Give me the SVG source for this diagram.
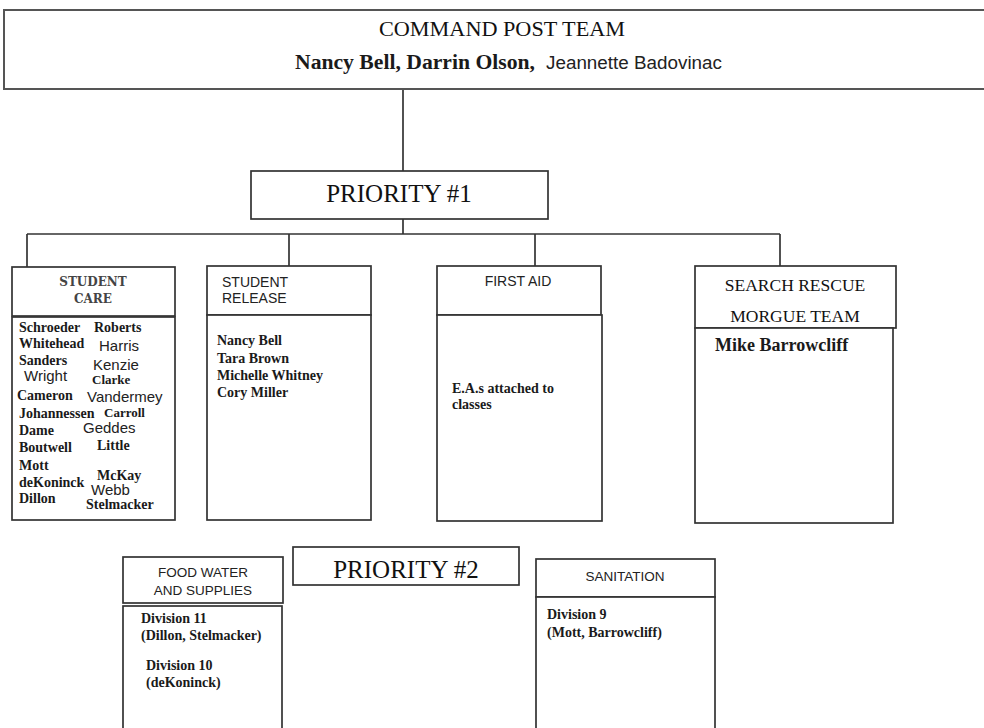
<svg xmlns="http://www.w3.org/2000/svg" width="984" height="728" viewBox="0 0 984 728">
<style>
.box{fill:#fff;stroke:#333;stroke-width:1.7}
.cmd{fill:#fff;stroke:#555;stroke-width:2}
.ln{fill:none;stroke:#333;stroke-width:1.7}
.tr{font-family:"Liberation Serif","Times New Roman",serif;fill:#111}
.tb{font-family:"Liberation Serif","Times New Roman",serif;font-weight:bold;fill:#1a1a1a}
.sa{font-family:"Liberation Sans",Arial,sans-serif;fill:#222}
.slab{font-family:"DejaVu Serif",serif;font-weight:bold;fill:#444;font-size:12px}
.nm{font-size:14px}
.sn{font-size:15px}
</style>
<rect width="984" height="728" fill="#fff"/>
<g id="connectors">
<line class="ln" x1="403" y1="89" x2="403" y2="171"/>
<line class="ln" x1="403" y1="219" x2="403" y2="234"/>
<line class="ln" x1="27" y1="234" x2="780" y2="234"/>
<line class="ln" x1="27" y1="234" x2="27" y2="267"/>
<line class="ln" x1="289" y1="234" x2="289" y2="266"/>
<line class="ln" x1="535" y1="234" x2="535" y2="266"/>
<line class="ln" x1="780" y1="234" x2="780" y2="266"/>
</g>
<g id="command-post">
<rect class="cmd" x="4" y="10" width="990" height="79"/>
<text class="tr" x="502" y="36" font-size="21" text-anchor="middle" textLength="246" lengthAdjust="spacingAndGlyphs">COMMAND POST TEAM</text>
<text class="tb" x="295" y="69" font-size="20" textLength="240" lengthAdjust="spacingAndGlyphs">Nancy Bell, Darrin Olson,</text>
<text class="sa" x="546" y="69" font-size="17.5" textLength="176" lengthAdjust="spacingAndGlyphs">Jeannette Badovinac</text>
</g>
<g id="priority-1">
<rect class="box" x="251" y="171" width="297" height="48"/>
<text class="tr" x="399" y="202" font-size="25" text-anchor="middle">PRIORITY #1</text>
</g>
<g id="student-care">
<rect class="box" x="12" y="267" width="163" height="49"/>
<rect class="box" x="12" y="317" width="163" height="203"/>
<text class="slab" x="93" y="286" text-anchor="middle">STUDENT</text>
<text class="slab" x="93" y="303" text-anchor="middle">CARE</text>
<text class="tb nm" x="19" y="332">Schroeder</text>
<text class="tb nm" x="94" y="332">Roberts</text>
<text class="tb nm" x="19" y="348">Whitehead</text>
<text class="sa sn" x="99" y="351">Harris</text>
<text class="tb nm" x="19" y="365">Sanders</text>
<text class="sa sn" x="93" y="370">Kenzie</text>
<text class="sa sn" x="24" y="381">Wright</text>
<text class="tb" x="92" y="384" font-size="13">Clarke</text>
<text class="tb nm" x="17" y="400">Cameron</text>
<text class="sa sn" x="87" y="402">Vandermey</text>
<text class="tb nm" x="19" y="418">Johannessen</text>
<text class="tb" x="104" y="417" font-size="13" font-weight="normal">Carroll</text>
<text class="tb nm" x="19" y="435">Dame</text>
<text class="sa sn" x="83" y="433">Geddes</text>
<text class="tb nm" x="19" y="452">Boutwell</text>
<text class="tb nm" x="97" y="450">Little</text>
<text class="tb nm" x="19" y="470">Mott</text>
<text class="tb nm" x="97" y="480">McKay</text>
<text class="tb nm" x="19" y="487">deKoninck</text>
<text class="sa sn" x="91" y="495">Webb</text>
<text class="tb nm" x="19" y="503">Dillon</text>
<text class="tb nm" x="86" y="509">Stelmacker</text>
</g>
<g id="student-release">
<rect class="box" x="207" y="266" width="164" height="49"/>
<rect class="box" x="207" y="315" width="164" height="205"/>
<text class="sa" x="222" y="287" font-size="14">STUDENT</text>
<text class="sa" x="222" y="303" font-size="14">RELEASE</text>
<text class="tb nm" x="217" y="345">Nancy Bell</text>
<text class="tb nm" x="217" y="363">Tara Brown</text>
<text class="tb nm" x="217" y="380">Michelle Whitney</text>
<text class="tb nm" x="217" y="397">Cory Miller</text>
</g>
<g id="first-aid">
<rect class="box" x="437" y="266" width="164" height="49"/>
<rect class="box" x="437" y="315" width="165" height="206"/>
<text class="sa" x="518" y="286" font-size="14" text-anchor="middle">FIRST AID</text>
<text class="tb nm" x="452" y="393">E.A.s attached to</text>
<text class="tb nm" x="452" y="409">classes</text>
</g>
<g id="search-rescue">
<rect class="box" x="695" y="266" width="201" height="62"/>
<rect class="box" x="695" y="328" width="198" height="195"/>
<text class="tr" x="795" y="291" font-size="17.5" text-anchor="middle">SEARCH RESCUE</text>
<text class="tr" x="795" y="322" font-size="17.5" text-anchor="middle">MORGUE TEAM</text>
<text class="tb" x="715" y="351" font-size="18">Mike Barrowcliff</text>
</g>
<g id="priority-2">
<rect class="box" x="293" y="547" width="226" height="38"/>
<text class="tr" x="406" y="578" font-size="25" text-anchor="middle">PRIORITY #2</text>
</g>
<g id="food-water">
<rect class="box" x="123" y="557" width="160" height="46"/>
<rect class="box" x="123" y="606" width="159" height="130"/>
<text class="sa" x="203" y="577" font-size="13.5" text-anchor="middle">FOOD WATER</text>
<text class="sa" x="203" y="595" font-size="13.5" text-anchor="middle">AND SUPPLIES</text>
<text class="tb nm" x="141" y="623">Division 11</text>
<text class="tb nm" x="141" y="640">(Dillon, Stelmacker)</text>
<text class="tb nm" x="146" y="670">Division 10</text>
<text class="tb nm" x="146" y="687">(deKoninck)</text>
</g>
<g id="sanitation">
<rect class="box" x="536" y="559" width="179" height="38"/>
<rect class="box" x="536" y="597" width="179" height="140"/>
<text class="sa" x="625" y="581" font-size="13.5" text-anchor="middle">SANITATION</text>
<text class="tb nm" x="547" y="619">Division 9</text>
<text class="tb nm" x="547" y="637">(Mott, Barrowcliff)</text>
</g>
</svg>
